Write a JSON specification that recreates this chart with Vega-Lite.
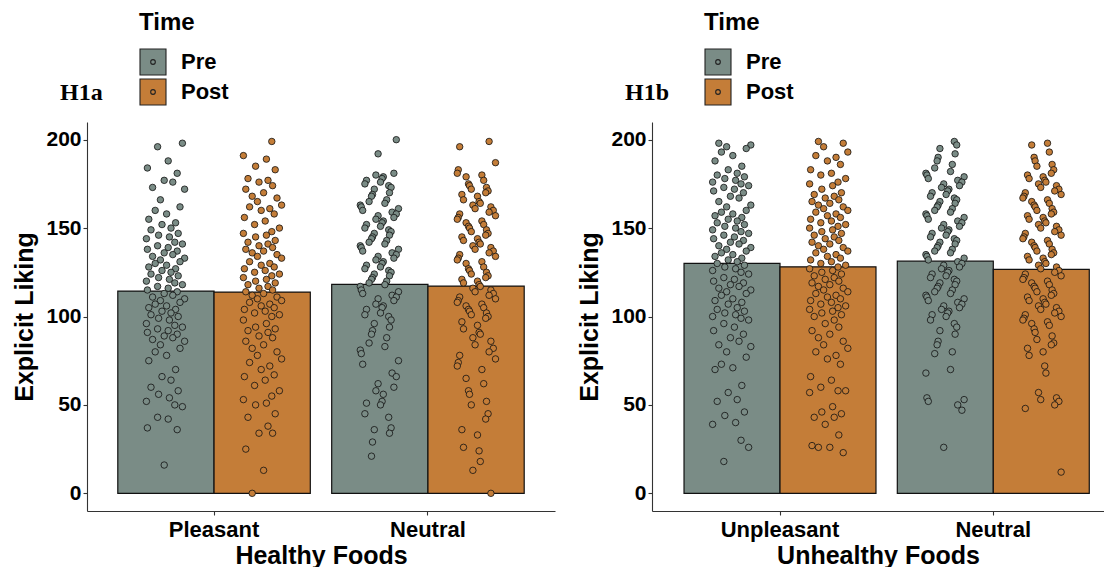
{
"$schema": "https://vega.github.io/schema/vega-lite/v6.json",
"autosize": {"type": "pad"},
"padding": {"left": 12, "top": 11, "right": 0, "bottom": 0},
"background": "white",
"config": {
  "view": {"stroke": null},
  "font": "Liberation Sans",
  "axis": {"labelFont": "Liberation Sans", "labelFontWeight": "bold", "labelColor": "black", "titleFont": "Liberation Sans", "titleFontWeight": "bold", "titleColor": "black", "domainColor": "#333333", "domainWidth": 1.1, "tickColor": "#333333", "tickWidth": 1.1, "tickSize": 4, "grid": false},
  "axisX": {"labelFontSize": 22, "titleFontSize": 25, "labelPadding": 4, "titlePadding": 3, "labelAngle": 0},
  "axisY": {"labelFontSize": 21, "titleFontSize": 25, "labelPadding": 2, "titlePadding": 8},
  "legend": {"orient": "none", "legendX": 52, "legendY": -111, "titleFont": "Liberation Sans", "titleFontSize": 24, "titleFontWeight": "bold", "titleColor": "black", "labelFont": "Liberation Sans", "labelFontSize": 22, "labelFontWeight": "bold", "labelColor": "black", "symbolType": "M-1,-1H1V1H-1Z M0.18,0A0.18,0.18,0,1,1,-0.18,0A0.18,0.18,0,1,1,0.18,0Z", "symbolSize": 676, "symbolStrokeColor": "#222222", "symbolStrokeWidth": 1.1, "symbolOpacity": 1, "labelOffset": 14, "rowPadding": -4, "titlePadding": 13, "padding": 0},
  "title": {"font": "Liberation Serif", "fontSize": 24, "fontWeight": "bold", "color": "black", "anchor": "start", "frame": "group", "dx": -27, "offset": -94}
},
"datasets": {
  "aBars": [{"food": "Pleasant", "time": "Pre", "liking": 114.4}, {"food": "Pleasant", "time": "Post", "liking": 113.8}, {"food": "Neutral", "time": "Pre", "liking": 118.2}, {"food": "Neutral", "time": "Post", "liking": 117.2}],
  "bBars": [{"food": "Unpleasant", "time": "Pre", "liking": 130.1}, {"food": "Unpleasant", "time": "Post", "liking": 128.1}, {"food": "Neutral", "time": "Pre", "liking": 131.3}, {"food": "Neutral", "time": "Post", "liking": 126.6}],
  "aPlPre": [
{"liking":198,"jit":0.83},{"liking":196,"jit":-0.41},{"liking":188,"jit":0.12},{"liking":184,"jit":-0.92},{"liking":181,"jit":0.57},{"liking":177,"jit":-0.08},{"liking":176,"jit":0.35},{"liking":173,"jit":-0.66},{"liking":172,"jit":0.94},{"liking":166,"jit":-0.27},{"liking":162,"jit":0.71},{"liking":160,"jit":-0.53},{"liking":158,"jit":0.04},{"liking":155,"jit":-0.85},{"liking":153,"jit":0.49},{"liking":152,"jit":-0.19},{"liking":150,"jit":0.26},{"liking":149,"jit":-0.74},{"liking":147,"jit":0.62},{"liking":146,"jit":-0.36},{"liking":145,"jit":0.18},{"liking":144,"jit":-0.97},{"liking":142,"jit":0.45},
{"liking":141,"jit":0.83},{"liking":140,"jit":-0.41},{"liking":139,"jit":0.12},{"liking":138,"jit":-0.92},{"liking":137,"jit":0.57},{"liking":136,"jit":-0.08},{"liking":135,"jit":0.35},{"liking":134,"jit":-0.66},{"liking":133,"jit":0.94},{"liking":132,"jit":-0.27},{"liking":131,"jit":0.71},{"liking":130,"jit":-0.53},{"liking":129,"jit":0.04},{"liking":128,"jit":-0.85},{"liking":127,"jit":0.49},{"liking":126,"jit":-0.19},{"liking":125,"jit":0.26},{"liking":124,"jit":-0.74},{"liking":123,"jit":0.62},{"liking":122,"jit":-0.36},{"liking":121,"jit":0.18},{"liking":120,"jit":-0.97},{"liking":119,"jit":0.45},
{"liking":118,"jit":0.83},{"liking":117,"jit":-0.41},{"liking":116,"jit":0.12},{"liking":115,"jit":-0.92},{"liking":114,"jit":0.57},{"liking":113,"jit":-0.08},{"liking":112,"jit":0.35},{"liking":111,"jit":-0.66},{"liking":110,"jit":0.94},{"liking":109,"jit":-0.27},{"liking":108,"jit":0.71},{"liking":107,"jit":-0.53},{"liking":106,"jit":0.04},{"liking":105,"jit":-0.85},{"liking":104,"jit":0.49},{"liking":103,"jit":-0.19},{"liking":102,"jit":0.26},{"liking":101,"jit":-0.74},{"liking":100,"jit":0.62},{"liking":99,"jit":-0.36},{"liking":98,"jit":0.18},{"liking":96,"jit":-0.97},{"liking":95,"jit":0.45},
{"liking":94,"jit":0.83},{"liking":93,"jit":-0.41},{"liking":92,"jit":0.12},{"liking":91,"jit":-0.92},{"liking":90,"jit":0.57},{"liking":89,"jit":-0.08},{"liking":88,"jit":0.35},{"liking":87,"jit":-0.66},{"liking":86,"jit":0.94},{"liking":84,"jit":-0.27},{"liking":82,"jit":0.71},{"liking":80,"jit":-0.53},{"liking":78,"jit":0.04},{"liking":75,"jit":-0.85},{"liking":70,"jit":0.49},{"liking":66,"jit":-0.19},{"liking":64,"jit":0.26},{"liking":60,"jit":-0.74},{"liking":58,"jit":0.62},{"liking":56,"jit":-0.36},{"liking":54,"jit":0.18},{"liking":52,"jit":-0.97},{"liking":50,"jit":0.45},
{"liking":49,"jit":0.83},{"liking":43,"jit":-0.41},{"liking":42,"jit":0.12},{"liking":37,"jit":-0.92},{"liking":36,"jit":0.57},{"liking":16,"jit":-0.08}],
  "aPlPost": [
{"liking":199,"jit":0.45},{"liking":191,"jit":-0.97},{"liking":189,"jit":0.18},{"liking":185,"jit":-0.36},{"liking":183,"jit":0.62},{"liking":178,"jit":-0.74},{"liking":177,"jit":0.26},{"liking":176,"jit":-0.19},{"liking":174,"jit":0.49},{"liking":172,"jit":-0.85},{"liking":170,"jit":0.04},{"liking":168,"jit":-0.53},{"liking":167,"jit":0.71},{"liking":165,"jit":-0.27},{"liking":163,"jit":0.94},{"liking":162,"jit":-0.66},{"liking":161,"jit":0.35},{"liking":160,"jit":-0.08},{"liking":158,"jit":0.57},{"liking":156,"jit":-0.92},{"liking":154,"jit":0.12},{"liking":152,"jit":-0.41},{"liking":150,"jit":0.83},
{"liking":148,"jit":0.45},{"liking":147,"jit":-0.97},{"liking":146,"jit":0.18},{"liking":145,"jit":-0.36},{"liking":143,"jit":0.62},{"liking":142,"jit":-0.74},{"liking":141,"jit":0.26},{"liking":140,"jit":-0.19},{"liking":139,"jit":0.49},{"liking":138,"jit":-0.85},{"liking":137,"jit":0.04},{"liking":136,"jit":-0.53},{"liking":135,"jit":0.71},{"liking":134,"jit":-0.27},{"liking":133,"jit":0.94},{"liking":131,"jit":-0.66},{"liking":130,"jit":0.35},{"liking":129,"jit":-0.08},{"liking":128,"jit":0.57},{"liking":127,"jit":-0.92},{"liking":126,"jit":0.12},{"liking":125,"jit":-0.41},{"liking":124,"jit":0.83},
{"liking":123,"jit":0.45},{"liking":122,"jit":-0.97},{"liking":121,"jit":0.18},{"liking":120,"jit":-0.36},{"liking":119,"jit":0.62},{"liking":118,"jit":-0.74},{"liking":117,"jit":0.26},{"liking":116,"jit":-0.19},{"liking":115,"jit":0.49},{"liking":114,"jit":-0.85},{"liking":113,"jit":0.04},{"liking":112,"jit":-0.53},{"liking":111,"jit":0.71},{"liking":110,"jit":-0.27},{"liking":109,"jit":0.94},{"liking":108,"jit":-0.66},{"liking":107,"jit":0.35},{"liking":106,"jit":-0.08},{"liking":105,"jit":0.57},{"liking":104,"jit":-0.92},{"liking":103,"jit":0.12},{"liking":102,"jit":-0.41},{"liking":101,"jit":0.83},
{"liking":100,"jit":0.45},{"liking":98,"jit":-0.97},{"liking":96,"jit":0.18},{"liking":94,"jit":-0.36},{"liking":93,"jit":0.62},{"liking":92,"jit":-0.74},{"liking":91,"jit":0.26},{"liking":89,"jit":-0.19},{"liking":88,"jit":0.49},{"liking":86,"jit":-0.85},{"liking":84,"jit":0.04},{"liking":82,"jit":-0.53},{"liking":80,"jit":0.71},{"liking":78,"jit":-0.27},{"liking":76,"jit":0.94},{"liking":74,"jit":-0.66},{"liking":72,"jit":0.35},{"liking":70,"jit":-0.08},{"liking":67,"jit":0.57},{"liking":66,"jit":-0.92},{"liking":64,"jit":0.12},{"liking":61,"jit":-0.41},{"liking":58,"jit":0.83},
{"liking":55,"jit":0.45},{"liking":53,"jit":-0.97},{"liking":51,"jit":0.18},{"liking":50,"jit":-0.36},{"liking":45,"jit":0.62},{"liking":43,"jit":-0.74},{"liking":38,"jit":0.26},{"liking":34,"jit":-0.19},{"liking":34,"jit":0.49},{"liking":25,"jit":-0.85},{"liking":13,"jit":0.04},{"liking":0,"jit":-0.53}],
  "aNePre": [
{"liking":200,"jit":0.83},{"liking":192,"jit":-0.08},{"liking":181,"jit":0.71},{"liking":180,"jit":-0.19},{"liking":179,"jit":0.18},{"liking":178,"jit":0.12},{"liking":177,"jit":-0.66},{"liking":176,"jit":0.04},{"liking":175,"jit":-0.74},{"liking":174,"jit":0.45},{"liking":173,"jit":0.57},{"liking":172,"jit":-0.27},{"liking":170,"jit":0.49},{"liking":169,"jit":-0.36},{"liking":168,"jit":-0.41},{"liking":166,"jit":0.35},{"liking":165,"jit":-0.53},{"liking":164,"jit":0.26},{"liking":163,"jit":-0.97},{"liking":162,"jit":-0.92},{"liking":161,"jit":0.94},{"liking":160,"jit":-0.85},{"liking":159,"jit":0.62},
{"liking":158,"jit":0.83},{"liking":157,"jit":-0.08},{"liking":156,"jit":0.71},{"liking":155,"jit":-0.19},{"liking":154,"jit":0.18},{"liking":153,"jit":0.12},{"liking":152,"jit":-0.66},{"liking":151,"jit":0.04},{"liking":150,"jit":-0.74},{"liking":149,"jit":0.45},{"liking":148,"jit":0.57},{"liking":147,"jit":-0.27},{"liking":146,"jit":0.49},{"liking":145,"jit":-0.36},{"liking":144,"jit":-0.41},{"liking":143,"jit":0.35},{"liking":142,"jit":-0.53},{"liking":141,"jit":0.26},{"liking":140,"jit":-0.97},{"liking":139,"jit":-0.92},{"liking":138,"jit":0.94},{"liking":137,"jit":-0.85},{"liking":136,"jit":0.62},
{"liking":135,"jit":0.83},{"liking":134,"jit":-0.08},{"liking":133,"jit":0.71},{"liking":132,"jit":-0.19},{"liking":131,"jit":0.18},{"liking":130,"jit":0.12},{"liking":129,"jit":-0.66},{"liking":128,"jit":0.04},{"liking":127,"jit":-0.74},{"liking":126,"jit":0.45},{"liking":125,"jit":0.57},{"liking":124,"jit":-0.27},{"liking":123,"jit":0.49},{"liking":122,"jit":-0.36},{"liking":121,"jit":-0.41},{"liking":120,"jit":0.35},{"liking":119,"jit":-0.53},{"liking":118,"jit":0.26},{"liking":117,"jit":-0.97},{"liking":115,"jit":-0.92},{"liking":114,"jit":0.94},{"liking":113,"jit":-0.85},{"liking":112,"jit":0.62},
{"liking":111,"jit":0.83},{"liking":110,"jit":-0.08},{"liking":109,"jit":0.71},{"liking":107,"jit":-0.19},{"liking":106,"jit":0.18},{"liking":105,"jit":0.12},{"liking":104,"jit":-0.66},{"liking":102,"jit":0.04},{"liking":101,"jit":-0.74},{"liking":100,"jit":0.45},{"liking":98,"jit":0.57},{"liking":96,"jit":-0.27},{"liking":94,"jit":0.49},{"liking":92,"jit":-0.36},{"liking":90,"jit":-0.41},{"liking":88,"jit":0.35},{"liking":85,"jit":-0.53},{"liking":83,"jit":0.26},{"liking":81,"jit":-0.97},{"liking":79,"jit":-0.92},{"liking":75,"jit":0.94},{"liking":73,"jit":-0.85},{"liking":68,"jit":0.62},
{"liking":66,"jit":0.83},{"liking":62,"jit":-0.08},{"liking":60,"jit":0.71},{"liking":58,"jit":-0.19},{"liking":56,"jit":0.18},{"liking":52,"jit":0.12},{"liking":51,"jit":-0.66},{"liking":50,"jit":0.04},{"liking":45,"jit":-0.74},{"liking":43,"jit":0.45},{"liking":37,"jit":0.57},{"liking":36,"jit":-0.27},{"liking":34,"jit":0.49},{"liking":29,"jit":-0.36},{"liking":21,"jit":-0.41}],
  "aNePost": [
{"liking":199,"jit":0.62},{"liking":196,"jit":-0.85},{"liking":187,"jit":0.94},{"liking":183,"jit":-0.92},{"liking":181,"jit":-0.97},{"liking":180,"jit":0.26},{"liking":179,"jit":-0.53},{"liking":177,"jit":0.35},{"liking":175,"jit":-0.41},{"liking":174,"jit":-0.36},{"liking":173,"jit":0.49},{"liking":172,"jit":-0.27},{"liking":171,"jit":0.57},{"liking":170,"jit":0.45},{"liking":169,"jit":-0.74},{"liking":168,"jit":0.04},{"liking":166,"jit":-0.66},{"liking":165,"jit":0.12},{"liking":164,"jit":0.18},{"liking":163,"jit":-0.19},{"liking":162,"jit":0.71},{"liking":161,"jit":-0.08},{"liking":160,"jit":0.83},
{"liking":159,"jit":0.62},{"liking":158,"jit":-0.85},{"liking":157,"jit":0.94},{"liking":156,"jit":-0.92},{"liking":155,"jit":-0.97},{"liking":154,"jit":0.26},{"liking":153,"jit":-0.53},{"liking":152,"jit":0.35},{"liking":151,"jit":-0.41},{"liking":150,"jit":-0.36},{"liking":149,"jit":0.49},{"liking":148,"jit":-0.27},{"liking":147,"jit":0.57},{"liking":146,"jit":0.45},{"liking":145,"jit":-0.74},{"liking":144,"jit":0.04},{"liking":143,"jit":-0.66},{"liking":142,"jit":0.12},{"liking":141,"jit":0.18},{"liking":140,"jit":-0.19},{"liking":139,"jit":0.71},{"liking":138,"jit":-0.08},{"liking":137,"jit":0.83},
{"liking":136,"jit":0.62},{"liking":135,"jit":-0.85},{"liking":134,"jit":0.94},{"liking":133,"jit":-0.92},{"liking":132,"jit":-0.97},{"liking":131,"jit":0.26},{"liking":130,"jit":-0.53},{"liking":128,"jit":0.35},{"liking":127,"jit":-0.41},{"liking":126,"jit":-0.36},{"liking":125,"jit":0.49},{"liking":124,"jit":-0.27},{"liking":123,"jit":0.57},{"liking":122,"jit":0.45},{"liking":121,"jit":-0.74},{"liking":120,"jit":0.04},{"liking":119,"jit":-0.66},{"liking":118,"jit":0.12},{"liking":117,"jit":0.18},{"liking":116,"jit":-0.19},{"liking":115,"jit":0.71},{"liking":114,"jit":-0.08},{"liking":113,"jit":0.83},
{"liking":112,"jit":0.62},{"liking":111,"jit":-0.85},{"liking":110,"jit":0.94},{"liking":109,"jit":-0.92},{"liking":108,"jit":-0.97},{"liking":107,"jit":0.26},{"liking":106,"jit":-0.53},{"liking":105,"jit":0.35},{"liking":104,"jit":-0.41},{"liking":103,"jit":-0.36},{"liking":102,"jit":0.49},{"liking":101,"jit":-0.27},{"liking":100,"jit":0.57},{"liking":99,"jit":0.45},{"liking":97,"jit":-0.74},{"liking":95,"jit":0.04},{"liking":93,"jit":-0.66},{"liking":91,"jit":0.12},{"liking":90,"jit":0.18},{"liking":88,"jit":-0.19},{"liking":86,"jit":0.71},{"liking":84,"jit":-0.08},{"liking":82,"jit":0.83},
{"liking":80,"jit":0.62},{"liking":78,"jit":-0.85},{"liking":76,"jit":0.94},{"liking":74,"jit":-0.92},{"liking":72,"jit":-0.97},{"liking":70,"jit":0.26},{"liking":65,"jit":-0.53},{"liking":62,"jit":0.35},{"liking":58,"jit":-0.41},{"liking":56,"jit":-0.36},{"liking":52,"jit":0.49},{"liking":50,"jit":-0.27},{"liking":45,"jit":0.57},{"liking":42,"jit":0.45},{"liking":36,"jit":-0.74},{"liking":33,"jit":0.04},{"liking":26,"jit":-0.66},{"liking":24,"jit":0.12},{"liking":18,"jit":0.18},{"liking":13,"jit":-0.19},{"liking":0,"jit":0.71}],
  "bUnPre": [
{"liking":198,"jit":-0.66},{"liking":197,"jit":0.94},{"liking":196,"jit":-0.27},{"liking":195,"jit":0.71},{"liking":193,"jit":-0.53},{"liking":191,"jit":0.04},{"liking":188,"jit":-0.85},{"liking":185,"jit":0.49},{"liking":183,"jit":-0.19},{"liking":181,"jit":0.26},{"liking":180,"jit":-0.74},{"liking":179,"jit":0.62},{"liking":178,"jit":-0.36},{"liking":177,"jit":0.18},{"liking":176,"jit":-0.97},{"liking":175,"jit":0.45},{"liking":174,"jit":0.83},{"liking":173,"jit":-0.41},{"liking":172,"jit":0.12},{"liking":171,"jit":-0.92},{"liking":170,"jit":0.57},{"liking":168,"jit":-0.08},{"liking":167,"jit":0.35},
{"liking":165,"jit":-0.66},{"liking":163,"jit":0.94},{"liking":162,"jit":-0.27},{"liking":160,"jit":0.71},{"liking":159,"jit":-0.53},{"liking":158,"jit":0.04},{"liking":157,"jit":-0.85},{"liking":156,"jit":0.49},{"liking":155,"jit":-0.19},{"liking":154,"jit":0.26},{"liking":153,"jit":-0.74},{"liking":152,"jit":0.62},{"liking":151,"jit":-0.36},{"liking":150,"jit":0.18},{"liking":149,"jit":-0.97},{"liking":148,"jit":0.45},{"liking":147,"jit":0.83},{"liking":146,"jit":-0.41},{"liking":145,"jit":0.12},{"liking":144,"jit":-0.92},{"liking":143,"jit":0.57},{"liking":142,"jit":-0.08},{"liking":141,"jit":0.35},
{"liking":140,"jit":-0.66},{"liking":139,"jit":0.94},{"liking":138,"jit":-0.27},{"liking":137,"jit":0.71},{"liking":136,"jit":-0.53},{"liking":135,"jit":0.04},{"liking":134,"jit":-0.85},{"liking":133,"jit":0.49},{"liking":132,"jit":-0.19},{"liking":131,"jit":0.26},{"liking":130,"jit":-0.74},{"liking":129,"jit":0.62},{"liking":128,"jit":-0.36},{"liking":127,"jit":0.18},{"liking":126,"jit":-0.97},{"liking":125,"jit":0.45},{"liking":124,"jit":0.83},{"liking":122,"jit":-0.41},{"liking":121,"jit":0.12},{"liking":120,"jit":-0.92},{"liking":119,"jit":0.57},{"liking":118,"jit":-0.08},{"liking":117,"jit":0.35},
{"liking":116,"jit":-0.66},{"liking":115,"jit":0.94},{"liking":114,"jit":-0.27},{"liking":113,"jit":0.71},{"liking":112,"jit":-0.53},{"liking":110,"jit":0.04},{"liking":109,"jit":-0.85},{"liking":108,"jit":0.49},{"liking":107,"jit":-0.19},{"liking":105,"jit":0.26},{"liking":104,"jit":-0.74},{"liking":103,"jit":0.62},{"liking":102,"jit":-0.36},{"liking":101,"jit":0.18},{"liking":100,"jit":-0.97},{"liking":99,"jit":0.45},{"liking":98,"jit":0.83},{"liking":96,"jit":-0.41},{"liking":94,"jit":0.12},{"liking":92,"jit":-0.92},{"liking":90,"jit":0.57},{"liking":88,"jit":-0.08},{"liking":86,"jit":0.35},
{"liking":84,"jit":-0.66},{"liking":83,"jit":0.94},{"liking":80,"jit":-0.27},{"liking":77,"jit":0.71},{"liking":73,"jit":-0.53},{"liking":71,"jit":0.04},{"liking":70,"jit":-0.85},{"liking":61,"jit":0.49},{"liking":57,"jit":-0.19},{"liking":53,"jit":0.26},{"liking":52,"jit":-0.74},{"liking":46,"jit":0.62},{"liking":44,"jit":-0.36},{"liking":40,"jit":0.18},{"liking":39,"jit":-0.97},{"liking":30,"jit":0.45},{"liking":26,"jit":0.83},{"liking":18,"jit":-0.41}],
  "bUnPost": [
{"liking":199,"jit":-0.53},{"liking":198,"jit":0.71},{"liking":196,"jit":-0.27},{"liking":193,"jit":0.94},{"liking":191,"jit":-0.66},{"liking":190,"jit":0.35},{"liking":188,"jit":-0.08},{"liking":186,"jit":0.57},{"liking":183,"jit":-0.92},{"liking":181,"jit":0.12},{"liking":180,"jit":-0.41},{"liking":178,"jit":0.83},{"liking":176,"jit":0.45},{"liking":175,"jit":-0.97},{"liking":174,"jit":0.18},{"liking":172,"jit":-0.36},{"liking":170,"jit":0.62},{"liking":169,"jit":-0.74},{"liking":168,"jit":0.26},{"liking":167,"jit":-0.19},{"liking":166,"jit":0.49},{"liking":165,"jit":-0.85},{"liking":164,"jit":0.04},
{"liking":163,"jit":-0.53},{"liking":162,"jit":0.71},{"liking":161,"jit":-0.27},{"liking":160,"jit":0.94},{"liking":159,"jit":-0.66},{"liking":158,"jit":0.35},{"liking":157,"jit":-0.08},{"liking":156,"jit":0.57},{"liking":155,"jit":-0.92},{"liking":154,"jit":0.12},{"liking":153,"jit":-0.41},{"liking":152,"jit":0.83},{"liking":151,"jit":0.45},{"liking":150,"jit":-0.97},{"liking":149,"jit":0.18},{"liking":148,"jit":-0.36},{"liking":147,"jit":0.62},{"liking":146,"jit":-0.74},{"liking":145,"jit":0.26},{"liking":144,"jit":-0.19},{"liking":143,"jit":0.49},{"liking":142,"jit":-0.85},{"liking":141,"jit":0.04},
{"liking":140,"jit":-0.53},{"liking":139,"jit":0.71},{"liking":138,"jit":-0.27},{"liking":137,"jit":0.94},{"liking":136,"jit":-0.66},{"liking":135,"jit":0.35},{"liking":134,"jit":-0.08},{"liking":133,"jit":0.57},{"liking":132,"jit":-0.92},{"liking":131,"jit":0.12},{"liking":130,"jit":-0.41},{"liking":129,"jit":0.83},{"liking":128,"jit":0.45},{"liking":127,"jit":-0.97},{"liking":126,"jit":0.18},{"liking":125,"jit":-0.36},{"liking":124,"jit":0.62},{"liking":123,"jit":-0.74},{"liking":122,"jit":0.26},{"liking":121,"jit":-0.19},{"liking":120,"jit":0.49},{"liking":119,"jit":-0.85},{"liking":118,"jit":0.04},
{"liking":117,"jit":-0.53},{"liking":116,"jit":0.71},{"liking":115,"jit":-0.27},{"liking":114,"jit":0.94},{"liking":113,"jit":-0.66},{"liking":112,"jit":0.35},{"liking":111,"jit":-0.08},{"liking":110,"jit":0.57},{"liking":109,"jit":-0.92},{"liking":108,"jit":0.12},{"liking":107,"jit":-0.41},{"liking":106,"jit":0.83},{"liking":105,"jit":0.45},{"liking":104,"jit":-0.97},{"liking":103,"jit":0.18},{"liking":102,"jit":-0.36},{"liking":101,"jit":0.62},{"liking":100,"jit":-0.74},{"liking":98,"jit":0.26},{"liking":96,"jit":-0.19},{"liking":94,"jit":0.49},{"liking":92,"jit":-0.85},{"liking":90,"jit":0.04},
{"liking":88,"jit":-0.53},{"liking":86,"jit":0.71},{"liking":84,"jit":-0.27},{"liking":82,"jit":0.94},{"liking":80,"jit":-0.66},{"liking":78,"jit":0.35},{"liking":76,"jit":-0.08},{"liking":73,"jit":0.57},{"liking":66,"jit":-0.92},{"liking":64,"jit":0.12},{"liking":60,"jit":-0.41},{"liking":58,"jit":0.83},{"liking":58,"jit":0.45},{"liking":57,"jit":-0.97},{"liking":49,"jit":0.18},{"liking":46,"jit":-0.36},{"liking":45,"jit":0.62},{"liking":43,"jit":-0.74},{"liking":43,"jit":0.26},{"liking":39,"jit":-0.19},{"liking":33,"jit":0.49},{"liking":27,"jit":-0.85},{"liking":26,"jit":0.04},
{"liking":26,"jit":-0.53},{"liking":23,"jit":0.71}],
  "bNePre": [
{"liking":199,"jit":0.45},{"liking":197,"jit":0.57},{"liking":195,"jit":-0.27},{"liking":192,"jit":0.49},{"liking":190,"jit":-0.36},{"liking":188,"jit":-0.41},{"liking":186,"jit":0.35},{"liking":184,"jit":-0.53},{"liking":182,"jit":0.26},{"liking":181,"jit":-0.97},{"liking":180,"jit":-0.92},{"liking":179,"jit":0.94},{"liking":178,"jit":-0.85},{"liking":177,"jit":0.62},{"liking":176,"jit":0.83},{"liking":175,"jit":-0.08},{"liking":174,"jit":0.71},{"liking":173,"jit":-0.19},{"liking":172,"jit":0.18},{"liking":171,"jit":0.12},{"liking":170,"jit":-0.66},{"liking":169,"jit":0.04},{"liking":168,"jit":-0.74},
{"liking":167,"jit":0.45},{"liking":166,"jit":0.57},{"liking":165,"jit":-0.27},{"liking":164,"jit":0.49},{"liking":163,"jit":-0.36},{"liking":162,"jit":-0.41},{"liking":161,"jit":0.35},{"liking":160,"jit":-0.53},{"liking":159,"jit":0.26},{"liking":158,"jit":-0.97},{"liking":157,"jit":-0.92},{"liking":156,"jit":0.94},{"liking":155,"jit":-0.85},{"liking":154,"jit":0.62},{"liking":153,"jit":0.83},{"liking":152,"jit":-0.08},{"liking":151,"jit":0.71},{"liking":150,"jit":-0.19},{"liking":149,"jit":0.18},{"liking":148,"jit":0.12},{"liking":147,"jit":-0.66},{"liking":146,"jit":0.04},{"liking":145,"jit":-0.74},
{"liking":144,"jit":0.45},{"liking":143,"jit":0.57},{"liking":142,"jit":-0.27},{"liking":141,"jit":0.49},{"liking":140,"jit":-0.36},{"liking":139,"jit":-0.41},{"liking":138,"jit":0.35},{"liking":137,"jit":-0.53},{"liking":136,"jit":0.26},{"liking":135,"jit":-0.97},{"liking":134,"jit":-0.92},{"liking":133,"jit":0.94},{"liking":132,"jit":-0.85},{"liking":131,"jit":0.62},{"liking":130,"jit":0.83},{"liking":129,"jit":-0.08},{"liking":128,"jit":0.71},{"liking":127,"jit":-0.19},{"liking":126,"jit":0.18},{"liking":125,"jit":0.12},{"liking":124,"jit":-0.66},{"liking":123,"jit":0.04},{"liking":122,"jit":-0.74},
{"liking":121,"jit":0.45},{"liking":120,"jit":0.57},{"liking":119,"jit":-0.27},{"liking":118,"jit":0.49},{"liking":117,"jit":-0.36},{"liking":116,"jit":-0.41},{"liking":115,"jit":0.35},{"liking":114,"jit":-0.53},{"liking":113,"jit":0.26},{"liking":112,"jit":-0.97},{"liking":111,"jit":-0.92},{"liking":110,"jit":0.94},{"liking":109,"jit":-0.85},{"liking":108,"jit":0.62},{"liking":107,"jit":0.83},{"liking":106,"jit":-0.08},{"liking":105,"jit":0.71},{"liking":104,"jit":-0.19},{"liking":103,"jit":0.18},{"liking":102,"jit":0.12},{"liking":101,"jit":-0.66},{"liking":100,"jit":0.04},{"liking":98,"jit":-0.74},
{"liking":96,"jit":0.45},{"liking":94,"jit":0.57},{"liking":92,"jit":-0.27},{"liking":90,"jit":0.49},{"liking":86,"jit":-0.36},{"liking":84,"jit":-0.41},{"liking":80,"jit":0.35},{"liking":79,"jit":-0.53},{"liking":70,"jit":0.26},{"liking":68,"jit":-0.97},{"liking":54,"jit":-0.92},{"liking":53,"jit":0.94},{"liking":52,"jit":-0.85},{"liking":50,"jit":0.62},{"liking":47,"jit":0.83},{"liking":26,"jit":-0.08}],
  "bNePost": [
{"liking":198,"jit":0.26},{"liking":197,"jit":-0.53},{"liking":193,"jit":0.35},{"liking":190,"jit":-0.41},{"liking":188,"jit":-0.36},{"liking":186,"jit":0.49},{"liking":185,"jit":-0.27},{"liking":183,"jit":0.57},{"liking":181,"jit":0.45},{"liking":180,"jit":-0.74},{"liking":179,"jit":0.04},{"liking":178,"jit":-0.66},{"liking":177,"jit":0.12},{"liking":176,"jit":0.18},{"liking":175,"jit":-0.19},{"liking":174,"jit":0.71},{"liking":173,"jit":-0.08},{"liking":172,"jit":0.83},{"liking":171,"jit":0.62},{"liking":170,"jit":-0.85},{"liking":169,"jit":0.94},{"liking":168,"jit":-0.92},{"liking":167,"jit":-0.97},
{"liking":166,"jit":0.26},{"liking":165,"jit":-0.53},{"liking":164,"jit":0.35},{"liking":163,"jit":-0.41},{"liking":162,"jit":-0.36},{"liking":161,"jit":0.49},{"liking":160,"jit":-0.27},{"liking":159,"jit":0.57},{"liking":158,"jit":0.45},{"liking":157,"jit":-0.74},{"liking":156,"jit":0.04},{"liking":155,"jit":-0.66},{"liking":154,"jit":0.12},{"liking":153,"jit":0.18},{"liking":152,"jit":-0.19},{"liking":151,"jit":0.71},{"liking":150,"jit":-0.08},{"liking":149,"jit":0.83},{"liking":148,"jit":0.62},{"liking":147,"jit":-0.85},{"liking":146,"jit":0.94},{"liking":145,"jit":-0.92},{"liking":144,"jit":-0.97},
{"liking":143,"jit":0.26},{"liking":142,"jit":-0.53},{"liking":141,"jit":0.35},{"liking":140,"jit":-0.41},{"liking":139,"jit":-0.36},{"liking":138,"jit":0.49},{"liking":137,"jit":-0.27},{"liking":136,"jit":0.57},{"liking":135,"jit":0.45},{"liking":134,"jit":-0.74},{"liking":133,"jit":0.04},{"liking":132,"jit":-0.66},{"liking":131,"jit":0.12},{"liking":130,"jit":0.18},{"liking":129,"jit":-0.19},{"liking":128,"jit":0.71},{"liking":127,"jit":-0.08},{"liking":126,"jit":0.83},{"liking":125,"jit":0.62},{"liking":124,"jit":-0.85},{"liking":123,"jit":0.94},{"liking":122,"jit":-0.92},{"liking":121,"jit":-0.97},
{"liking":120,"jit":0.26},{"liking":119,"jit":-0.53},{"liking":118,"jit":0.35},{"liking":117,"jit":-0.41},{"liking":116,"jit":-0.36},{"liking":115,"jit":0.49},{"liking":114,"jit":-0.27},{"liking":113,"jit":0.57},{"liking":112,"jit":0.45},{"liking":111,"jit":-0.74},{"liking":110,"jit":0.04},{"liking":109,"jit":-0.66},{"liking":108,"jit":0.12},{"liking":107,"jit":0.18},{"liking":106,"jit":-0.19},{"liking":105,"jit":0.71},{"liking":104,"jit":-0.08},{"liking":103,"jit":0.83},{"liking":102,"jit":0.62},{"liking":101,"jit":-0.85},{"liking":100,"jit":0.94},{"liking":99,"jit":-0.92},{"liking":98,"jit":-0.97},
{"liking":97,"jit":0.26},{"liking":96,"jit":-0.53},{"liking":95,"jit":0.35},{"liking":93,"jit":-0.41},{"liking":91,"jit":-0.36},{"liking":89,"jit":0.49},{"liking":87,"jit":-0.27},{"liking":85,"jit":0.57},{"liking":84,"jit":0.45},{"liking":82,"jit":-0.74},{"liking":80,"jit":0.04},{"liking":78,"jit":-0.66},{"liking":72,"jit":0.12},{"liking":68,"jit":0.18},{"liking":57,"jit":-0.19},{"liking":54,"jit":0.71},{"liking":53,"jit":-0.08},{"liking":52,"jit":0.83},{"liking":50,"jit":0.62},{"liking":48,"jit":-0.85},{"liking":12,"jit":0.94}]
},
"spacing": 22,
"resolve": {"scale": {"color": "independent"}, "legend": {"color": "independent"}},
"hconcat": [
  {
    "width": 468, "height": 389,
    "title": {"text": "H1a"},
    "encoding": {"y": {"field": "liking", "type": "quantitative", "title": "Explicit Liking", "scale": {"domain": [-10, 210], "nice": false, "zero": false}, "axis": {"values": [0, 50, 100, 150, 200]}}},
    "resolve": {"scale": {"xOffset": "independent"}},
    "layer": [
      {"data": {"name": "aBars"}, "mark": {"type": "bar", "stroke": "#111111", "strokeWidth": 1.2},
       "encoding": {
         "x": {"field": "food", "type": "nominal", "title": "Healthy Foods", "scale": {"domain": ["Pleasant", "Neutral"], "paddingInner": 0.1, "paddingOuter": 0.144}},
         "xOffset": {"field": "time", "type": "nominal", "scale": {"domain": ["Pre", "Post"], "paddingInner": 0, "paddingOuter": 0}},
         "color": {"field": "time", "type": "nominal", "title": "Time", "scale": {"domain": ["Pre", "Post"], "range": ["#7A8C86", "#C47D38"]}}}},
      {"data": {"name": "aPlPre"}, "mark": {"type": "circle", "size": 42, "fill": "#7A8C86", "stroke": "#111111", "strokeWidth": 0.8, "opacity": 1},
       "encoding": {"x": {"datum": "Pleasant", "type": "nominal", "title": "Healthy Foods"}, "xOffset": {"field": "jit", "type": "quantitative", "scale": {"domain": [-1, 1], "range": [28, 68]}}}},
      {"data": {"name": "aPlPost"}, "mark": {"type": "circle", "size": 42, "fill": "#C47D38", "stroke": "#111111", "strokeWidth": 0.8, "opacity": 1},
       "encoding": {"x": {"datum": "Pleasant", "type": "nominal", "title": "Healthy Foods"}, "xOffset": {"field": "jit", "type": "quantitative", "scale": {"domain": [-1, 1], "range": [125, 165]}}}},
      {"data": {"name": "aNePre"}, "mark": {"type": "circle", "size": 42, "fill": "#7A8C86", "stroke": "#111111", "strokeWidth": 0.8, "opacity": 1},
       "encoding": {"x": {"datum": "Neutral", "type": "nominal", "title": "Healthy Foods"}, "xOffset": {"field": "jit", "type": "quantitative", "scale": {"domain": [-1, 1], "range": [28, 68]}}}},
      {"data": {"name": "aNePost"}, "mark": {"type": "circle", "size": 42, "fill": "#C47D38", "stroke": "#111111", "strokeWidth": 0.8, "opacity": 1},
       "encoding": {"x": {"datum": "Neutral", "type": "nominal", "title": "Healthy Foods"}, "xOffset": {"field": "jit", "type": "quantitative", "scale": {"domain": [-1, 1], "range": [125, 165]}}}}
    ]
  },
  {
    "width": 452, "height": 389,
    "title": {"text": "H1b"},
    "encoding": {"y": {"field": "liking", "type": "quantitative", "title": "Explicit Liking", "scale": {"domain": [-10, 210], "nice": false, "zero": false}, "axis": {"values": [0, 50, 100, 150, 200]}}},
    "resolve": {"scale": {"xOffset": "independent"}},
    "layer": [
      {"data": {"name": "bBars"}, "mark": {"type": "bar", "stroke": "#111111", "strokeWidth": 1.2},
       "encoding": {
         "x": {"field": "food", "type": "nominal", "title": "Unhealthy Foods", "scale": {"domain": ["Unpleasant", "Neutral"], "paddingInner": 0.1, "paddingOuter": 0.1096, "align": 0.685}},
         "xOffset": {"field": "time", "type": "nominal", "scale": {"domain": ["Pre", "Post"], "paddingInner": 0, "paddingOuter": 0}},
         "color": {"field": "time", "type": "nominal", "title": "Time", "scale": {"domain": ["Pre", "Post"], "range": ["#7A8C86", "#C47D38"]}}}},
      {"data": {"name": "bUnPre"}, "mark": {"type": "circle", "size": 42, "fill": "#7A8C86", "stroke": "#111111", "strokeWidth": 0.8, "opacity": 1},
       "encoding": {"x": {"datum": "Unpleasant", "type": "nominal", "title": "Unhealthy Foods"}, "xOffset": {"field": "jit", "type": "quantitative", "scale": {"domain": [-1, 1], "range": [28, 68]}}}},
      {"data": {"name": "bUnPost"}, "mark": {"type": "circle", "size": 42, "fill": "#C47D38", "stroke": "#111111", "strokeWidth": 0.8, "opacity": 1},
       "encoding": {"x": {"datum": "Unpleasant", "type": "nominal", "title": "Unhealthy Foods"}, "xOffset": {"field": "jit", "type": "quantitative", "scale": {"domain": [-1, 1], "range": [125, 165]}}}},
      {"data": {"name": "bNePre"}, "mark": {"type": "circle", "size": 42, "fill": "#7A8C86", "stroke": "#111111", "strokeWidth": 0.8, "opacity": 1},
       "encoding": {"x": {"datum": "Neutral", "type": "nominal", "title": "Unhealthy Foods"}, "xOffset": {"field": "jit", "type": "quantitative", "scale": {"domain": [-1, 1], "range": [28, 68]}}}},
      {"data": {"name": "bNePost"}, "mark": {"type": "circle", "size": 42, "fill": "#C47D38", "stroke": "#111111", "strokeWidth": 0.8, "opacity": 1},
       "encoding": {"x": {"datum": "Neutral", "type": "nominal", "title": "Unhealthy Foods"}, "xOffset": {"field": "jit", "type": "quantitative", "scale": {"domain": [-1, 1], "range": [125, 165]}}}}
    ]
  }
]
}
